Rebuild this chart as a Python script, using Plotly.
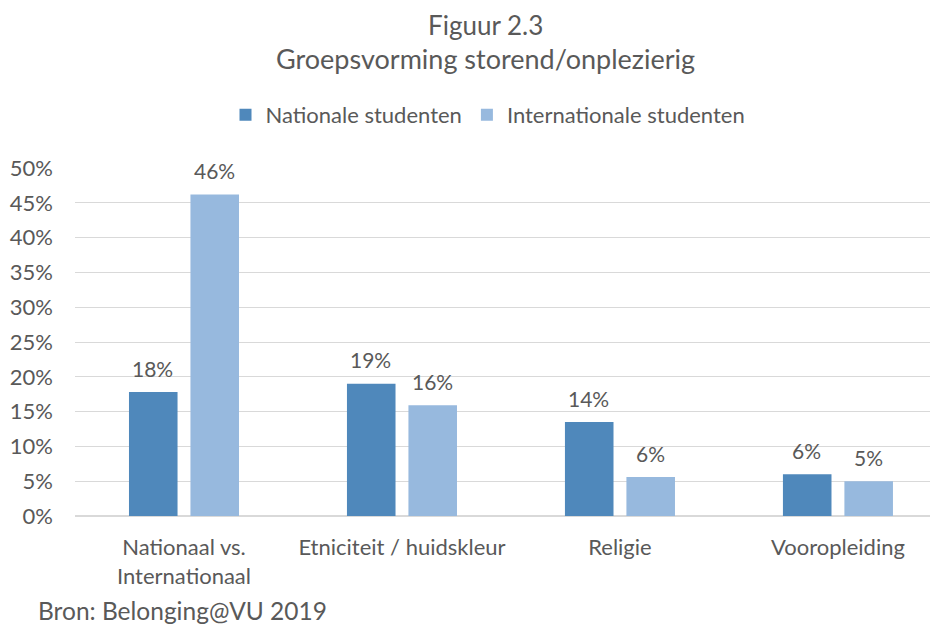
import plotly.graph_objects as go

categories = ["Nationaal vs.<br>Internationaal", "Etniciteit / huidskleur", "Religie", "Vooropleiding"]
nationale = [17.8, 19.0, 13.5, 6.0]
internationale = [46.2, 15.9, 5.6, 5.0]
label_nat = ["18%", "19%", "14%", "6%"]
label_int = ["46%", "16%", "6%", "5%"]
series_names = ["Nationale studenten", "Internationale studenten"]
ytick_vals = [0, 5, 10, 15, 20, 25, 30, 35, 40, 45, 50]
ytick_text = ["0%", "5%", "10%", "15%", "20%", "25%", "30%", "35%", "40%", "45%", "50%"]

C_NAT = "#4F88BB"
C_INT = "#97B9DE"
TXT = "#595959"
FONT = "Lato"

# page body has an 8px margin: figure is 930x618 drawn from (8,8)
OFF = 8
PL, PT, PB = 75 - OFF, 168 - OFF, 516 - OFF
W, H = 938 - OFF, 626 - OFF
PW, PH = W - PL, PB - PT


def px_x(x):
    return (x - OFF - PL) / PW


def px_y(y):
    return (PB - (y - OFF)) / PH


fig = go.Figure()
fig.add_trace(go.Bar(x=categories, y=nationale, name=series_names[0], marker_color=C_NAT,
                     marker_line_width=0))
fig.add_trace(go.Bar(x=categories, y=internationale, name=series_names[1], marker_color=C_INT,
                     marker_line_width=0))

for cat, v, t in zip(categories, nationale, label_nat):
    fig.add_annotation(x=cat, y=v, text=t, showarrow=False, xshift=-31, yshift=24,
                       yanchor="middle", font=dict(family=FONT, size=21, color=TXT))
for cat, v, t in zip(categories, internationale, label_int):
    fig.add_annotation(x=cat, y=v, text=t, showarrow=False, xshift=31, yshift=24,
                       yanchor="middle", font=dict(family=FONT, size=21, color=TXT))

fig.add_annotation(xref="paper", yref="paper", x=px_x(485), y=px_y(25),
                   text="Figuur 2.3", showarrow=False, xanchor="center", yanchor="middle",
                   borderpad=0, font=dict(family=FONT, size=26, color=TXT))
fig.add_annotation(xref="paper", yref="paper", x=px_x(485), y=px_y(58),
                   text="Groepsvorming storend/onplezierig", showarrow=False, xanchor="center",
                   yanchor="middle", font=dict(family=FONT, size=27, color=TXT))
fig.add_annotation(xref="paper", yref="paper", x=px_x(36), y=px_y(610),
                   text="Bron: Belonging@VU 2019", showarrow=False, xanchor="left",
                   yanchor="middle", font=dict(family=FONT, size=24.5, color=TXT))

fig.update_layout(
    width=W, height=H,
    margin=dict(l=PL, r=0, t=PT, b=H - PB, pad=0),
    paper_bgcolor="white", plot_bgcolor="white",
    barmode="group", bargap=0.436, bargroupgap=0.21,
    font=dict(family=FONT, color=TXT),
    showlegend=True,
    legend=dict(orientation="h", x=px_x(488), xanchor="center", y=px_y(115),
                yanchor="middle", font=dict(family=FONT, size=22, color=TXT),
                itemwidth=30),
    xaxis=dict(range=[-0.5, 3.459], showline=False, ticks="",
               tickfont=dict(family=FONT, size=22, color=TXT), ticklabelstandoff=16),
    yaxis=dict(range=[0, 50], tickvals=ytick_vals, ticktext=ytick_text, showgrid=True,
               gridcolor="#D9D9D9", gridwidth=1, zeroline=True, zerolinecolor="#D9D9D9",
               tickfont=dict(family=FONT, size=22, color=TXT), ticklabelstandoff=21),
)

fig.write_html("out.html")
